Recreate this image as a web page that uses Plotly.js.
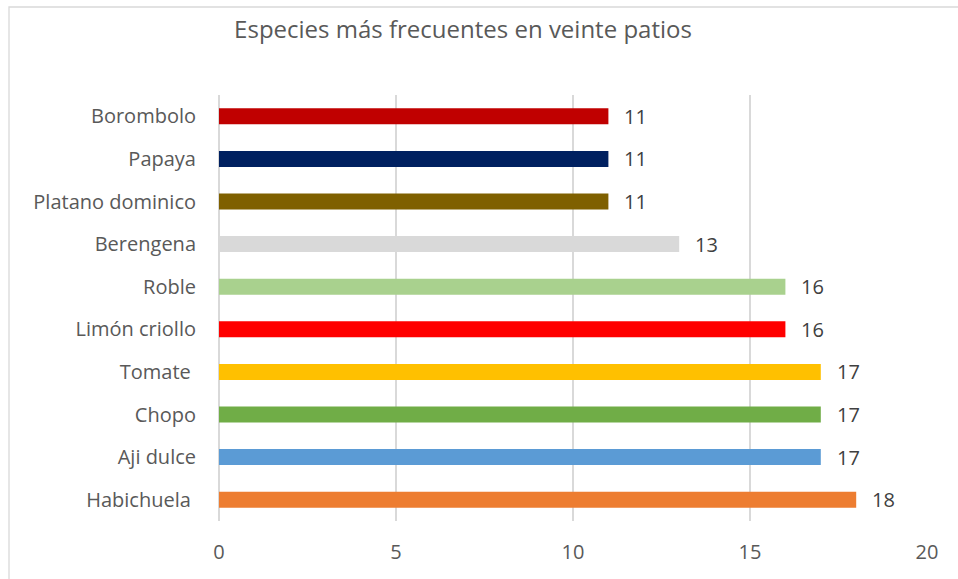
<!DOCTYPE html>
<html>
<head>
<meta charset="utf-8">
<script src="https://cdn.plot.ly/plotly-3.0.1.min.js"></script>
<style>html,body{margin:0;padding:0;background:#fff;}#chart{width:958px;height:579px;}</style>
</head>
<body>
<div id="chart"></div>
<script>
// Categories listed bottom to top
const categories = ["Habichuela ", "Aji dulce", "Chopo", "Tomate ", "Limón criollo", "Roble", "Berengena", "Platano dominico", "Papaya", "Borombolo"];
const values = [18, 17, 17, 17, 16, 16, 13, 11, 11, 11];
const colors = ["#ED7D31", "#5B9BD5", "#70AD47", "#FFC000", "#FF0000", "#A9D18E", "#D9D9D9", "#7F6000", "#002060", "#C00000"];
const xTicks = [0, 5, 10, 15, 20];

const W = 958, H = 579;
const L = 219, R = 31, T = 95, B = 58;
const pw = W - L - R, ph = H - T - B;
const font = "'Open Sans', Lato, sans-serif";

const annotations = categories.map((c, i) => ({
  x: values[i], y: c, xref: "x", yref: "y",
  text: String(values[i]),
  showarrow: false,
  xanchor: "left", yanchor: "middle",
  xshift: 14,
  font: {family: font, size: 20, color: "#404040"}
}));

Plotly.newPlot("chart", [{
  type: "bar",
  orientation: "h",
  y: categories,
  x: values,
  marker: {color: colors},
  hoverinfo: "none"
}], {
  width: W, height: H,
  margin: {l: L, r: R, t: T, b: B, pad: 0},
  paper_bgcolor: "#ffffff",
  plot_bgcolor: "#ffffff",
  showlegend: false,
  bargap: 0.625,
  title: {
    text: "Especies más frecuentes en veinte patios",
    font: {family: font, size: 24, color: "#595959"},
    xref: "container", x: 463 / W, xanchor: "center",
    yref: "container", y: 1 - 30 / H, yanchor: "middle"
  },
  xaxis: {
    range: [0, 20],
    tickvals: xTicks,
    ticktext: xTicks.map(String),
    showgrid: true,
    gridcolor: "#D9D9D9",
    gridwidth: 1.3,
    zeroline: true,
    zerolinecolor: "#D9D9D9",
    zerolinewidth: 1.3,
    showline: false,
    ticks: "outside",
    ticklen: 13,
    tickcolor: "rgba(0,0,0,0)",
    tickfont: {family: font, size: 20, color: "#595959"},
    fixedrange: true
  },
  yaxis: {
    type: "category",
    categoryorder: "array",
    categoryarray: categories,
    showgrid: false,
    showline: false,
    ticks: "outside",
    ticklen: 18,
    tickcolor: "rgba(0,0,0,0)",
    tickfont: {family: font, size: 20, color: "#595959"},
    fixedrange: true
  },
  annotations: annotations,
  shapes: [{
    type: "rect",
    xref: "paper", yref: "paper",
    x0: (9 - L) / pw, x1: (W + 40 - L) / pw,
    y0: -(B + 40) / ph, y1: (H - 7 - B) / ph,
    line: {color: "#D9D9D9", width: 1.3},
    fillcolor: "rgba(0,0,0,0)",
    layer: "below"
  }]
}, {displayModeBar: false, staticPlot: true});
</script>
</body>
</html>
